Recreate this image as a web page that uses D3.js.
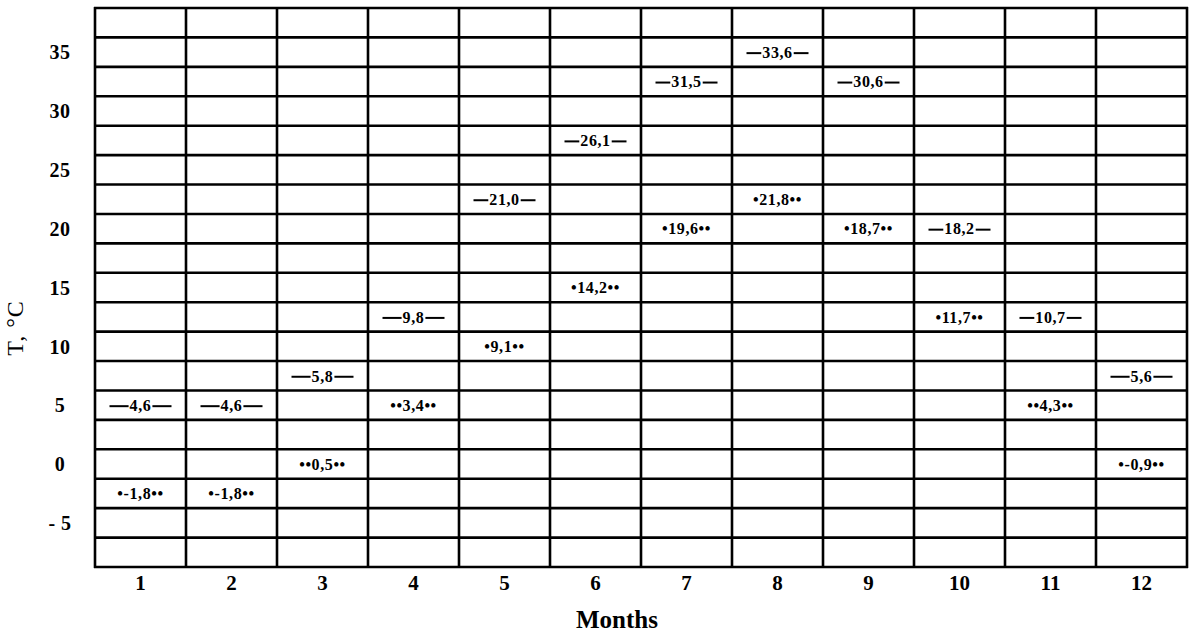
<!DOCTYPE html>
<html>
<head>
<meta charset="utf-8">
<script src="https://cdn.jsdelivr.net/npm/d3@7"></script>
<style>
  html, body { margin: 0; padding: 0; background: #fff; }
  svg { display: block; }
  text { font-family: "Liberation Serif", "Times New Roman", serif; fill: #000; }
</style>
</head>
<body>
<svg id="chart" width="1191" height="633"></svg>
<script>
// ---- data ----
const months = [1, 2, 3, 4, 5, 6, 7, 8, 9, 10, 11, 12];
const tMax = [4.6, 4.6, 5.8, 9.8, 21.0, 26.1, 31.5, 33.6, 30.6, 18.2, 10.7, 5.6];
const tMin = [-1.8, -1.8, 0.5, 3.4, 9.1, 14.2, 19.6, 21.8, 18.7, 11.7, 4.3, -0.9];
const minMarkBefore = ["•", "•", "••", "••", "•", "•", "•", "•", "•", "•", "••", "•"];
const yTickValues = [35, 30, 25, 20, 15, 10, 5, 0, -5];
const yTickLabels = ["35", "30", "25", "20", "15", "10", "5", "0", "- 5"];
const yDomain = [-8.75, 38.75];
const gridStep = 2.5;
const xTitle = "Months";
const yTitle = "T, °C";

// ---- layout ----
const svg = d3.select("#chart");
const mLeft = 95, mRight = 1187, mTop = 8, mBottom = 567;

const x = d3.scaleBand().domain(months).range([mLeft, mRight]).padding(0);
const y = d3.scaleLinear().domain(yDomain).range([mBottom, mTop]);
const cx = m => x(m) + x.bandwidth() / 2;

const fmt = v => d3.format(".1f")(v).replace(".", ",").replace("−", "-");
// labels are written in the grid row nearest to their (lifted) value
const rowOf = (v, lift) => Math.round((v + lift) / gridStep) * gridStep;
const maxLift = 1.5, minLift = 0.4;

// horizontal grid lines
const hLines = d3.range(yDomain[0], yDomain[1] + 0.001, gridStep);
svg.append("g").selectAll("line").data(hLines).join("line")
  .attr("x1", mLeft - 1).attr("x2", mRight + 1)
  .attr("y1", d => y(d)).attr("y2", d => y(d))
  .attr("stroke", "#000").attr("stroke-width", 2.6);

// vertical grid lines
const vLines = months.map(m => x(m)).concat([mRight]);
svg.append("g").selectAll("line").data(vLines).join("line")
  .attr("x1", d => d).attr("x2", d => d)
  .attr("y1", mTop - 1).attr("y2", mBottom + 1)
  .attr("stroke", "#000").attr("stroke-width", 2.6);

// y tick labels
svg.append("g").selectAll("text").data(yTickValues).join("text")
  .attr("x", 60).attr("y", d => y(d))
  .attr("dy", "0.36em")
  .attr("text-anchor", "middle")
  .attr("font-size", 20).attr("font-weight", "bold")
  .attr("letter-spacing", 0.5)
  .text((d, i) => yTickLabels[i]);

// x tick labels
svg.append("g").selectAll("text").data(months).join("text")
  .attr("x", d => cx(d)).attr("y", 590)
  .attr("text-anchor", "middle")
  .attr("font-size", 21).attr("font-weight", "bold")
  .text(d => d);

// axis titles
svg.append("text")
  .attr("x", 617).attr("y", 628)
  .attr("text-anchor", "middle")
  .attr("font-size", 25).attr("font-weight", "bold")
  .text(xTitle);

svg.append("text")
  .attr("transform", "translate(23,328) rotate(-90)")
  .attr("text-anchor", "middle")
  .attr("font-size", 24)
  .attr("letter-spacing", 1)
  .text(yTitle);

// max labels: value with dashes on both sides
const maxG = svg.append("g").selectAll("g").data(months).join("g");
const maxText = maxG.append("text")
  .attr("x", d => cx(d))
  .attr("y", (d, i) => y(rowOf(tMax[i], maxLift)))
  .attr("dy", "0.36em")
  .attr("text-anchor", "middle")
  .attr("font-size", 16).attr("font-weight", "bold")
  .attr("letter-spacing", 0.6)
  .text((d, i) => fmt(tMax[i]));
maxText.each(function (d, i) {
  const w = this.getComputedTextLength() / 2 + 1;
  const yy = y(rowOf(tMax[i], maxLift)) + 1;
  const g = d3.select(this.parentNode);
  [[-31, -w], [w, 31]].forEach(([a, b]) => {
    g.append("line")
      .attr("x1", cx(d) + a).attr("x2", cx(d) + b)
      .attr("y1", yy).attr("y2", yy)
      .attr("stroke", "#000").attr("stroke-width", 2);
  });
});

// min labels: value with dots
svg.append("g").selectAll("text").data(months).join("text")
  .attr("x", d => cx(d))
  .attr("y", (d, i) => y(rowOf(tMin[i], minLift)))
  .attr("dy", "0.36em")
  .attr("text-anchor", "middle")
  .attr("font-size", 16).attr("font-weight", "bold")
  .attr("letter-spacing", 0.6)
  .text((d, i) => minMarkBefore[i] + fmt(tMin[i]) + "••");
</script>
</body>
</html>
